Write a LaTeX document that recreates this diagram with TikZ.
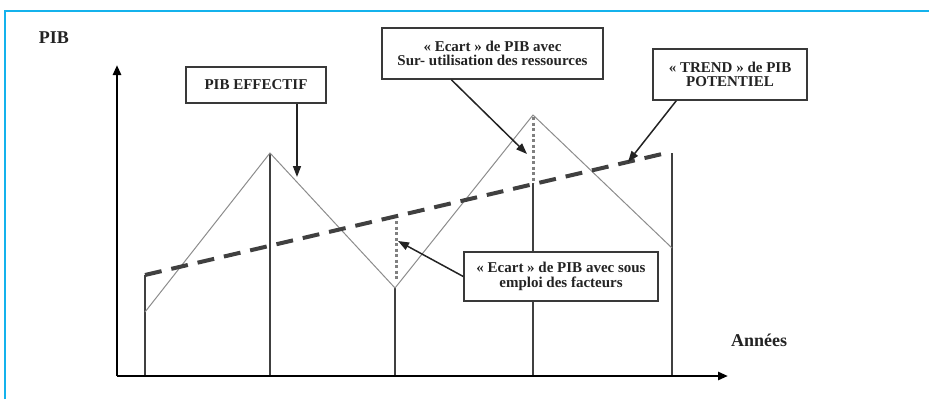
\documentclass[tikz,border=0pt]{standalone}
\usepackage{fontspec}
\setmainfont{Liberation Serif}
\usetikzlibrary{arrows.meta}
\definecolor{cyanframe}{RGB}{20,178,236}
\definecolor{ink}{RGB}{35,35,35}
\begin{document}
\begin{tikzpicture}[x=1pt,y=-1pt,
  boxnode/.style={draw=ink!90,line width=1.4pt,fill=white,align=center,inner sep=2pt,
    font=\fontsize{15}{14.5}\selectfont\bfseries,text=ink},
  axislabel/.style={font=\fontsize{18}{20}\selectfont\bfseries,text=ink},
  axisline/.style={line width=2.5pt,black,-{Triangle[length=10pt,width=8pt]}},
  vline/.style={line width=1.1pt,black!75},
  cycle/.style={line width=1pt,black!45},
  trendline/.style={line width=4pt,black!75,dash pattern=on 17pt off 10pt},
  gapline/.style={line width=3pt,black!50,dash pattern=on 3pt off 2.5pt},
  pointer/.style={line width=1.5pt,ink,-{Triangle[length=11pt,width=8pt]}}]
\useasboundingbox (0,0) rectangle (929,399);
% frame
\draw[cyanframe,line width=2.5pt] (5,399) -- (5,11) -- (929,11);
% cycle points
\coordinate (p0) at (145,312);
\coordinate (pk1) at (270,153);
\coordinate (v1) at (395,288);
\coordinate (pk2) at (533,115);
\coordinate (e1) at (672,248);
\coordinate (o) at (117,376);
\coordinate (ytop) at (117,65);
\coordinate (xend) at (728,376);
% verticals
\draw[vline] (145,376) -- (145,275);
\draw[vline] (270,376) -- (pk1);
\draw[vline] (395,376) -- (v1);
\draw[vline] (533,376) -- (533,183);
\draw[vline] (672,376) -- (672,153);
% effective GDP
\draw[cycle] (p0) -- (pk1) -- (v1) -- (pk2) -- (e1);
% trend
\coordinate (t0) at (145,275);
\coordinate (t1) at (662,154);
\draw[trendline] (t0) -- (t1);
% gaps
\draw[gapline] (396,221) -- (396,281);
\draw[gapline] (533,117) -- (533,183);
% axes
\draw[axisline] (o) -- (ytop);
\draw[axisline] (o) -- (xend);
\node[axislabel] (lpib) at (54,38) {PIB};
\node[axislabel] (lan) at (759,340) {Années};
% boxes
\node[boxnode,minimum width=140pt,minimum height=36pt] (eff) at (256,85) {PIB EFFECTIF};
\node[boxnode,minimum width=221pt,minimum height=51pt] (sur) at (492.5,53.5) {« Ecart » de PIB avec\\Sur- utilisation des ressources};
\node[boxnode,minimum width=154pt,minimum height=51pt] (trend) at (730,74.5) {« TREND » de PIB\\POTENTIEL};
\node[boxnode,minimum width=194pt,minimum height=49pt] (sous) at (561,276.5) {« Ecart » de PIB avec sous\\emploi des facteurs};
% pointers
\coordinate (tipA) at (297,177);
\coordinate (tipB) at (527,154);
\coordinate (tipC) at (628,162);
\coordinate (tipD) at (398,241);
\draw[pointer] (eff.south -| tipA) -- (tipA);
\draw[pointer] ([xshift=70pt]sur.south west) -- (tipB);
\draw[pointer] ([xshift=24pt]trend.south west) -- (tipC);
\draw[pointer] (sous.west) -- (tipD);
\end{tikzpicture}
\end{document}
